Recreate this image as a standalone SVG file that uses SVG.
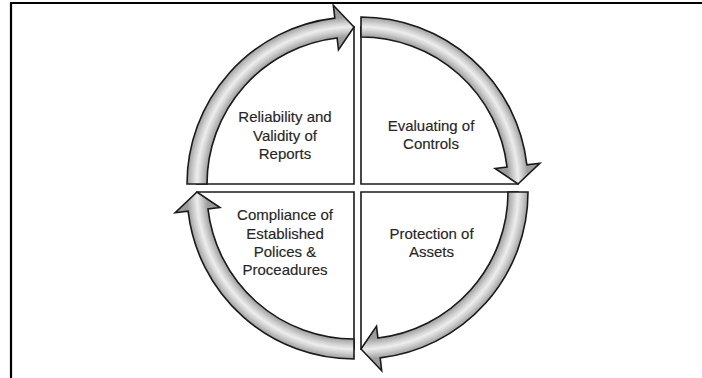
<svg xmlns="http://www.w3.org/2000/svg" xmlns:xlink="http://www.w3.org/1999/xlink" width="702" height="378" viewBox="0 0 702 378">
  <style>
    .frame { stroke: #000; stroke-width: 2.2; fill: none; }
    .pie { fill: #fff; stroke: #1a1a1a; stroke-width: 1.6; }
    .arrow { fill: url(#tube); stroke: #1a1a1a; stroke-width: 1.6; stroke-linejoin: miter; }
    .label { font-family: "Liberation Sans", Arial, sans-serif; font-size: 15px; fill: #262626; stroke: #262626; stroke-width: 0.15; text-anchor: middle; }
  </style>
  <defs>
    <!-- cylinder-like shading across the curved band, centred on the arc centre -->
    <radialGradient id="tube" gradientUnits="userSpaceOnUse" cx="0" cy="0" r="182">
      <stop offset="0.74" stop-color="#959595"/>
      <stop offset="0.808" stop-color="#9e9e9e"/>
      <stop offset="0.84" stop-color="#cfcfcf"/>
      <stop offset="0.863" stop-color="#ededed"/>
      <stop offset="0.886" stop-color="#cfcfcf"/>
      <stop offset="0.918" stop-color="#9e9e9e"/>
      <stop offset="1" stop-color="#959595"/>
    </radialGradient>
    <!-- quarter-circle arrow: from the left (180deg) clockwise to the top (270deg) -->
    <path id="arc-arrow" class="arrow"
      d="M -167 0 A 167 167 0 0 1 -19.19 -165.89 L -20.69 -178.81 L 0 -157 L -15.52 -134.11 L -16.90 -146.03 A 147 147 0 0 0 -147 0 Z"/>
  </defs>

  <!-- page frame -->
  <path class="frame" d="M 10 3 H 702 M 11 3 V 378"/>

  <g id="node-reliability">
    <path class="pie" d="M354 184 L197 184 A157 157 0 0 1 354 27 Z"/>
    <text class="label" x="285" y="122">Reliability and</text>
    <text class="label" x="285" y="140.5">Validity of</text>
    <text class="label" x="285" y="159">Reports</text>
  </g>

  <g id="node-evaluating">
    <path class="pie" d="M361 184 L361 27 A157 157 0 0 1 518 184 Z"/>
    <text class="label" x="431" y="131">Evaluating of</text>
    <text class="label" x="431" y="149">Controls</text>
  </g>

  <g id="node-protection">
    <path class="pie" d="M361 192 L518 192 A157 157 0 0 1 361 349 Z"/>
    <text class="label" x="431.5" y="238.5">Protection of</text>
    <text class="label" x="431.5" y="256.5">Assets</text>
  </g>

  <g id="node-compliance">
    <path class="pie" d="M354 192 L354 349 A157 157 0 0 1 197 192 Z"/>
    <text class="label" x="285" y="220">Compliance of</text>
    <text class="label" x="285" y="238.5">Established</text>
    <text class="label" x="285" y="256.5">Polices &amp;</text>
    <text class="label" x="285" y="274.5">Proceadures</text>
  </g>

  <g id="connectors">
    <use xlink:href="#arc-arrow" transform="translate(354 184)"/>
    <use xlink:href="#arc-arrow" transform="translate(361 184) rotate(90)"/>
    <use xlink:href="#arc-arrow" transform="translate(361 192) rotate(180)"/>
    <use xlink:href="#arc-arrow" transform="translate(354 192) rotate(270)"/>
  </g>
</svg>
